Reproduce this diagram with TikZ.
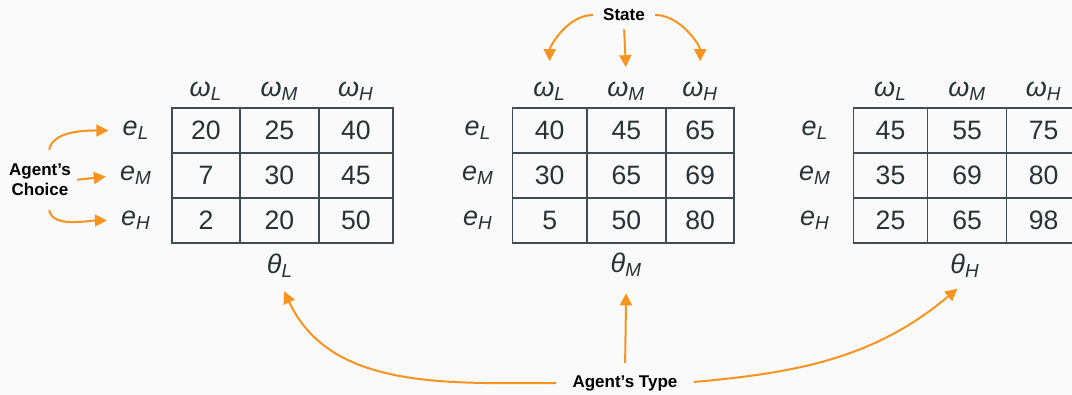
\documentclass[tikz,border=0pt]{standalone}
\usepackage{fontspec}
\setmainfont{Liberation Sans}
\usepackage{xcolor}
\usepackage{tikz}
\usetikzlibrary{arrows.meta}
\definecolor{arroworange}{HTML}{F7931E}
\definecolor{gridline}{HTML}{3F4C51}
\definecolor{inktext}{HTML}{263236}
\tikzstyle{cell}=[draw=gridline, line width=0.75pt, shape=rectangle, minimum width=37pt, minimum height=22.5pt, inner sep=0pt, text=inktext, font=\fontsize{13.3}{16}\selectfont]
\tikzstyle{narrow cell}=[style=cell, minimum width=34pt]
\tikzstyle{wide cell}=[style=cell, minimum width=39.5pt]
\tikzstyle{var}=[text=inktext, inner sep=2pt, font=\fontsize{13.5}{16}\selectfont\itshape]
\tikzstyle{caption}=[text=black, inner sep=2pt, align=center, font=\fontsize{8.5}{10}\selectfont\bfseries]
\tikzstyle{orange arrow}=[-{Triangle[length=6pt, width=6pt]}, draw=arroworange, line width=1pt]
\pgfdeclarelayer{nodelayer}
\pgfdeclarelayer{edgelayer}
\pgfsetlayers{main,nodelayer,edgelayer}

\begin{document}
\begin{tikzpicture}[x=0.5pt, y=0.5pt]
    	\fill [black!2] (0, 0) rectangle (1072, -395);
    	\useasboundingbox (0, 0) rectangle (1072, -395);
    	\begin{pgfonlayer}{nodelayer}
    		\node [style=narrow cell] (0) at (206, -130.5) {20};
    		\node [style=wide cell] (1) at (279.5, -130.5) {25};
    		\node [style=cell] (2) at (356, -130.5) {40};
    		\node [style=narrow cell] (3) at (206, -175.5) {7};
    		\node [style=wide cell] (4) at (279.5, -175.5) {30};
    		\node [style=cell] (5) at (356, -175.5) {45};
    		\node [style=narrow cell] (6) at (206, -220.5) {2};
    		\node [style=wide cell] (7) at (279.5, -220.5) {20};
    		\node [style=cell] (8) at (356, -220.5) {50};
    		\node [style=cell] (9) at (549.7, -130.5) {40};
    		\node [style=wide cell] (10) at (626.3, -130.5) {45};
    		\node [style=narrow cell] (11) at (700.2, -130.5) {65};
    		\node [style=cell] (12) at (549.7, -175.5) {30};
    		\node [style=wide cell] (13) at (626.3, -175.5) {65};
    		\node [style=narrow cell] (14) at (700.2, -175.5) {69};
    		\node [style=cell] (15) at (549.7, -220.5) {5};
    		\node [style=wide cell] (16) at (626.3, -220.5) {50};
    		\node [style=narrow cell] (17) at (700.2, -220.5) {80};
    		\node [style=cell] (18) at (890.5, -130.5) {45};
    		\node [style=wide cell] (19) at (967.2, -130.5) {55};
    		\node [style=cell] (20) at (1043.7, -130.5) {75};
    		\node [style=cell] (21) at (890.5, -175.5) {35};
    		\node [style=wide cell] (22) at (967.2, -175.5) {69};
    		\node [style=cell] (23) at (1043.7, -175.5) {80};
    		\node [style=cell] (24) at (890.5, -220.5) {25};
    		\node [style=wide cell] (25) at (967.2, -220.5) {65};
    		\node [style=cell] (26) at (1043.7, -220.5) {98};
    		\node [style=var] (27) at (136, -130.5) {e\textsubscript{L}};
    		\node [style=var] (28) at (136, -175.5) {e\textsubscript{M}};
    		\node [style=var] (29) at (136, -220.5) {e\textsubscript{H}};
    		\node [style=var] (30) at (478, -130.5) {e\textsubscript{L}};
    		\node [style=var] (31) at (478, -175.5) {e\textsubscript{M}};
    		\node [style=var] (32) at (478, -220.5) {e\textsubscript{H}};
    		\node [style=var] (33) at (815, -130.5) {e\textsubscript{L}};
    		\node [style=var] (34) at (815, -175.5) {e\textsubscript{M}};
    		\node [style=var] (35) at (815, -220.5) {e\textsubscript{H}};
    		\node [style=var] (36) at (206, -91) {ω\textsubscript{L}};
    		\node [style=var] (37) at (279.5, -91) {ω\textsubscript{M}};
    		\node [style=var] (38) at (356, -91) {ω\textsubscript{H}};
    		\node [style=var] (39) at (549.7, -91) {ω\textsubscript{L}};
    		\node [style=var] (40) at (626.3, -91) {ω\textsubscript{M}};
    		\node [style=var] (41) at (700.2, -91) {ω\textsubscript{H}};
    		\node [style=var] (42) at (890.5, -91) {ω\textsubscript{L}};
    		\node [style=var] (43) at (967.2, -91) {ω\textsubscript{M}};
    		\node [style=var] (44) at (1043.7, -91) {ω\textsubscript{H}};
    		\node [style=var] (45) at (280, -266) {θ\textsubscript{L}};
    		\node [style=var] (46) at (626.3, -265) {θ\textsubscript{M}};
    		\node [style=var] (47) at (965, -266) {θ\textsubscript{H}};
    		\node [style=caption] (48) at (624, -15) {State};
    		\node [style=caption] (49) at (40, -180) {Agent’s\\Choice};
    		\node [style=caption] (50) at (625, -383) {Agent’s Type};
    	\end{pgfonlayer}
    	\begin{pgfonlayer}{edgelayer}
    		\draw [style=orange arrow, shorten <=3pt, shorten >=8pt] (48.west) to[out=180, in=90] (39.north);
    		\draw [style=orange arrow, shorten <=2pt, shorten >=5pt] (48.south) to (40.north);
    		\draw [style=orange arrow, shorten <=3pt, shorten >=8pt] (48.east) to[out=0, in=90] (41.north);
    		\draw [style=orange arrow, shorten <=5pt, shorten >=5pt] (49.70) to[out=80, in=180] (27.west);
    		\draw [style=orange arrow, shorten <=1pt, shorten >=5pt] (49.east) to (28.west);
    		\draw [style=orange arrow, shorten <=5pt, shorten >=5pt] (49.-70) to[out=-80, in=180] (29.west);
    		\draw [style=orange arrow, shorten <=6pt, shorten >=5pt] (50.west) to[out=180, in=-65] (45.south);
    		\draw [style=orange arrow, shorten <=4pt, shorten >=6pt] (50.north) to (46.south);
    		\draw [style=orange arrow, shorten <=6pt, shorten >=5pt] (50.east) to[out=5, in=-140] (47.south);
    	\end{pgfonlayer}
    \end{tikzpicture}
\end{document}
